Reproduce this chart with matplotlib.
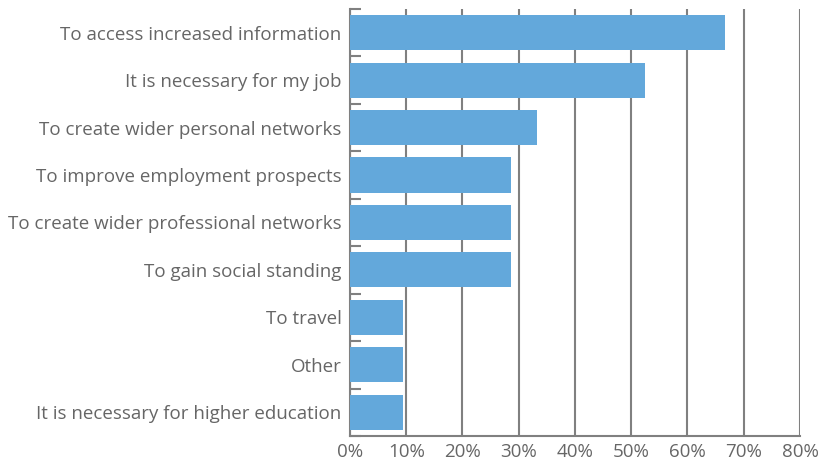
import matplotlib.pyplot as plt
from matplotlib.ticker import FixedLocator, PercentFormatter

reasons = [
    "To access increased information",
    "It is necessary for my job",
    "To create wider personal networks",
    "To improve employment prospects",
    "To create wider professional networks",
    "To gain social standing",
    "To travel",
    "Other",
    "It is necessary for higher education",
]
shares = [66.7, 52.4, 33.3, 28.6, 28.6, 28.6, 9.5, 9.5, 9.5]
x_ticks = [0, 10, 20, 30, 40, 50, 60, 70, 80]

BAR = "#63A8DB"
LINE = "#808080"
TEXT = "#666666"

plt.rcParams["font.family"] = ["Open Sans", "DejaVu Sans"]

fig = plt.figure(figsize=(8.22, 4.63), dpi=100)
ax = fig.add_axes([0.4258, 0.0583, 0.5474, 0.9223])

pos = list(range(len(reasons)))
ax.barh(pos, shares, height=0.74, color=BAR, zorder=3)
ax.set_ylim(len(reasons) - 0.5, -0.5)
ax.set_xlim(0, 80)

ax.set_yticks(pos)
ax.set_yticklabels(reasons)
ax.yaxis.set_minor_locator(FixedLocator([p - 0.5 for p in pos] + [len(reasons) - 0.5]))
ax.tick_params(axis="y", which="major", length=0, pad=6, labelsize=13.5, labelcolor=TEXT)
ax.tick_params(axis="y", which="minor", direction="in", length=8, width=1.5, color=LINE)

ax.set_xticks(x_ticks)
ax.xaxis.set_major_formatter(PercentFormatter(decimals=0))
ax.tick_params(axis="x", length=0, pad=5, labelsize=13.5, labelcolor=TEXT)
ax.grid(axis="x", color=LINE, linewidth=1.5, zorder=0)

for side in ["top", "right"]:
    ax.spines[side].set_visible(False)
for side in ["left", "bottom"]:
    ax.spines[side].set_color(LINE)
    ax.spines[side].set_linewidth(1.5)

fig.savefig("out.png", dpi=100)
